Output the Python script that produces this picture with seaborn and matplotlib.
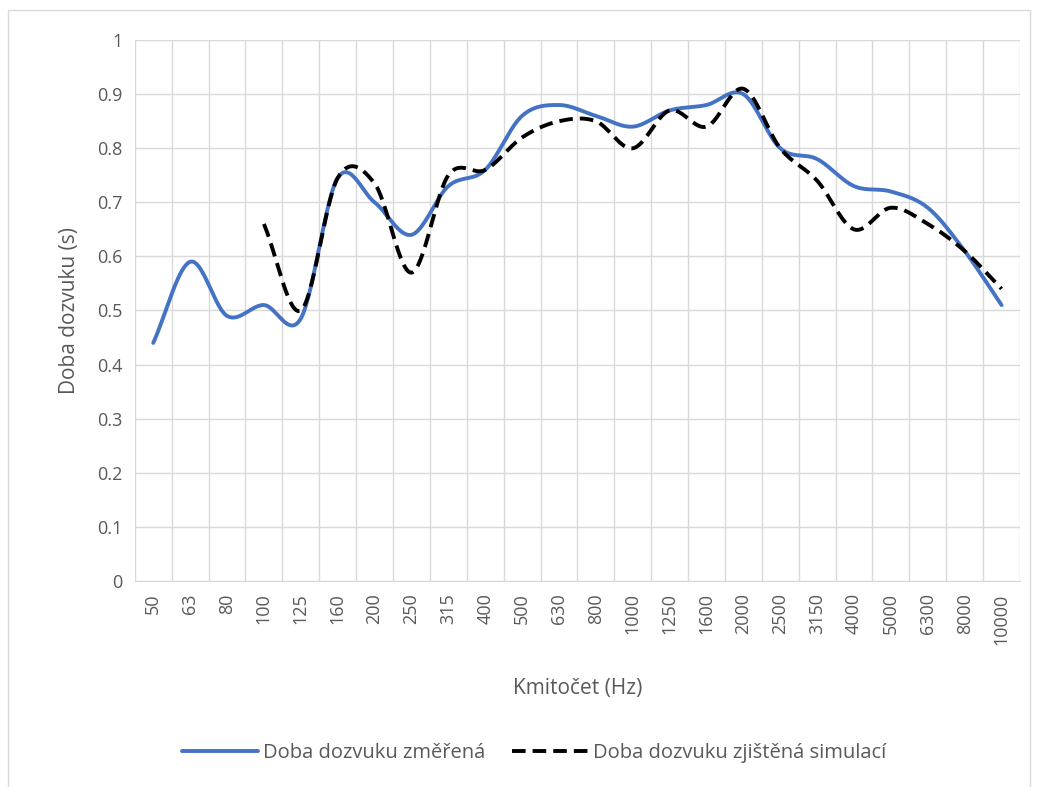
import numpy as np
import pandas as pd
import matplotlib
matplotlib.use("Agg")
import matplotlib.pyplot as plt
import seaborn as sns

# Data
freqs = ["50", "63", "80", "100", "125", "160", "200", "250", "315", "400", "500", "630",
         "800", "1000", "1250", "1600", "2000", "2500", "3150", "4000", "5000", "6300",
         "8000", "10000"]
measured = [0.44, 0.59, 0.49, 0.51, 0.485, 0.745, 0.70, 0.64, 0.73, 0.76, 0.86, 0.88,
            0.86, 0.84, 0.87, 0.88, 0.90, 0.80, 0.78, 0.73, 0.72, 0.69, 0.61, 0.51]
simulated = [None, None, None, 0.66, 0.50, 0.745, 0.735, 0.57, 0.75, 0.76, 0.82, 0.85,
             0.85, 0.80, 0.87, 0.84, 0.91, 0.80, 0.74, 0.65, 0.69, 0.66, 0.61, 0.54]

label_meas = "Doba dozvuku změřená"
label_sim = "Doba dozvuku zjištěná simulací"


def smooth(xs, ys, n=30):
    """Catmull-Rom style smoothing like Excel's smoothed line."""
    xs = np.asarray(xs, float)
    ys = np.asarray(ys, float)
    px = np.concatenate([[2 * xs[0] - xs[1]], xs, [2 * xs[-1] - xs[-2]]])
    py = np.concatenate([[2 * ys[0] - ys[1]], ys, [2 * ys[-1] - ys[-2]]])
    outx, outy = [], []
    for i in range(1, len(px) - 2):
        t = np.linspace(0, 1, n, endpoint=(i == len(px) - 3))
        for p, out in ((px, outx), (py, outy)):
            p0, p1, p2, p3 = p[i - 1], p[i], p[i + 1], p[i + 2]
            out.extend(0.5 * ((2 * p1) + (-p0 + p2) * t
                              + (2 * p0 - 5 * p1 + 4 * p2 - p3) * t ** 2
                              + (-p0 + 3 * p1 - 3 * p2 + p3) * t ** 3))
    return np.array(outx), np.array(outy)


idx = np.arange(len(freqs))
mx, my = smooth(idx, measured)
sim_idx = [i for i, v in enumerate(simulated) if v is not None]
sx, sy = smooth(sim_idx, [simulated[i] for i in sim_idx])

df = pd.concat([
    pd.DataFrame({"x": mx, "y": my, "serie": label_meas}),
    pd.DataFrame({"x": sx, "y": sy, "serie": label_sim}),
])

sns.set_style("white")
plt.rcParams['font.family'] = ['Open Sans', 'DejaVu Sans']

fig = plt.figure(figsize=(10.37, 7.87), dpi=100)
ax = fig.add_axes([0.130, 0.262, 0.8536, 0.687])

sns.lineplot(data=df, x="x", y="y", hue="serie", style="serie",
             palette={label_meas: "#4472C4", label_sim: "black"},
             dashes={label_meas: "", label_sim: (3.5, 1.8)},
             linewidth=2.8, sort=False, estimator=None, ax=ax)

gridc = "#d9d9d9"
ax.set_xlim(-0.5, len(freqs) - 0.5)
ax.set_ylim(0, 1)
ax.set_yticks(np.arange(0, 1.01, 0.1))
ax.set_yticklabels(["0"] + [f"{v:.1f}" for v in np.arange(0.1, 0.95, 0.1)] + ["1"])
ax.set_xticks(idx)
ax.set_xticklabels(freqs, rotation=90)
ax.set_xticks(np.arange(-0.5, len(freqs), 1), minor=True)
ax.grid(axis="y", color=gridc, linewidth=1)
ax.grid(axis="x", which="minor", color=gridc, linewidth=1)
ax.tick_params(axis="both", which="major", length=0, labelsize=13, colors="#595959", pad=9)
ax.tick_params(axis="x", which="minor", length=6, color=gridc, width=1)
for s in ["top", "right", "left"]:
    ax.spines[s].set_visible(False)
ax.spines["bottom"].set_color(gridc)

ax.set_xlabel("Kmitočet (Hz)", fontsize=15, color="#595959", labelpad=24)
ax.set_ylabel("Doba dozvuku (s)", fontsize=15, color="#595959", labelpad=12)

ax.legend(loc="center", bbox_to_anchor=(0.515, 0.043), bbox_transform=fig.transFigure,
          ncol=2, frameon=False, fontsize=14.5, handlelength=3.8, handletextpad=0.25,
          columnspacing=1.3, labelcolor="#595959")

fig.patches.append(plt.Rectangle((0.008, -0.01), 0.985, 0.997, transform=fig.transFigure,
                                 fill=False, edgecolor=gridc, linewidth=1))

fig.savefig("out.png", dpi=100)
